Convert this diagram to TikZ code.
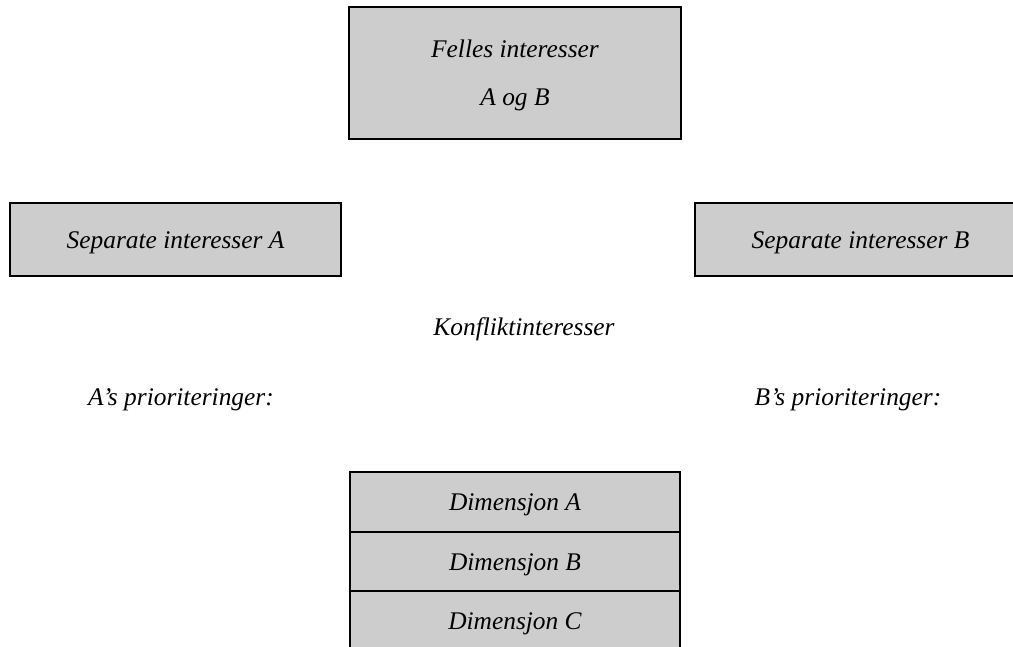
\documentclass[tikz,border=0pt]{standalone}
\usepackage{fontspec}
\setmainfont{Liberation Serif}
\usepackage{xcolor}
\usepackage{tikz}
\usetikzlibrary{positioning}
\definecolor{boxgray}{RGB}{205,205,205}

\tikzset{
  interestbox/.style={rectangle,draw=black,fill=boxgray,line width=0.9pt,
          inner sep=0pt,outer sep=0pt,text height=11pt,text depth=2.7pt,
          font=\fontsize{12}{14}\selectfont\itshape},
  plainlabel/.style={text height=11pt,text depth=2.7pt,font=\fontsize{12}{14}\selectfont\itshape},
}

\begin{document}
\begin{tikzpicture}[x=0.4724pt,y=-0.4724pt]
    \useasboundingbox (0,0) rectangle (1013,646);
    % common interests on top
    \node[rectangle,draw=black,fill=boxgray,line width=0.9pt,inner sep=0pt,outer sep=0pt,
          minimum width=156.8pt,minimum height=62.4pt,align=center,text depth=0pt,
          font=\fontsize{12}{22.7}\selectfont\itshape] (felles) at (515,73)
          {Felles interesser\\A og B};
    % separate interests on each side
    \node[interestbox,minimum width=156.4pt,minimum height=34.5pt] (sepA) at (175.5,239.5)
          {Separate interesser A};
    \node[interestbox,minimum width=156.4pt,minimum height=34.5pt] (sepB) at (860.5,239.5)
          {Separate interesser B};
    \node[plainlabel] (konflikt) at (524,327) {Konfliktinteresser};
    \node[plainlabel] (prioA) at (181,397) {A's prioriteringer:};
    \node[plainlabel] (prioB) at (848,397) {B's prioriteringer:};
    % stack of dimensions
    \node[interestbox,minimum width=155.9pt,minimum height=28.1pt] (dimA) at (515,502) {Dimensjon A};
    \node[interestbox,minimum width=155.9pt,minimum height=28.1pt,below=0pt of dimA] (dimB) {Dimensjon B};
    \node[interestbox,minimum width=155.9pt,minimum height=28.1pt,below=0pt of dimB] (dimC) {Dimensjon C};
  \end{tikzpicture}
\end{document}
